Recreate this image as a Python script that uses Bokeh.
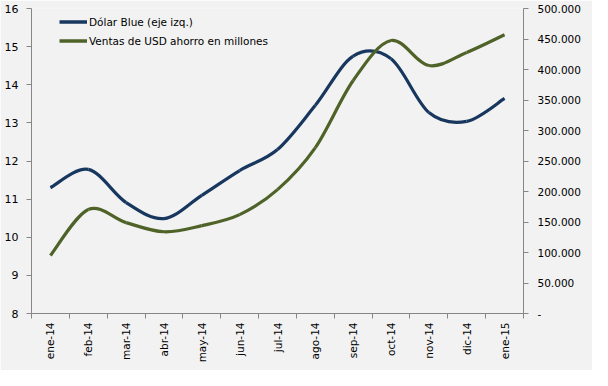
import numpy as np
from bokeh.plotting import figure
from bokeh.models import Range1d, LinearAxis, FixedTicker, Legend, LegendItem
from bokeh.embed import file_html
from bokeh.resources import INLINE

months = ["ene-14", "feb-14", "mar-14", "abr-14", "may-14", "jun-14", "jul-14",
          "ago-14", "sep-14", "oct-14", "nov-14", "dic-14", "ene-15"]
dolar_blue = [11.30, 11.78, 10.91, 10.49, 11.10, 11.75, 12.30,
              13.46, 14.75, 14.68, 13.27, 13.04, 13.64]
ventas_usd = [95000, 170500, 149000, 134000, 144000, 162000, 203000,
              272000, 382000, 447500, 406500, 428000, 457000]
left_ticks = [8, 9, 10, 11, 12, 13, 14, 15, 16]
right_ticks = [0, 50000, 100000, 150000, 200000, 250000, 300000,
               350000, 400000, 450000, 500000]
right_labels = ["-", "50.000", "100.000", "150.000", "200.000", "250.000",
                "300.000", "350.000", "400.000", "450.000", "500.000"]

BG = "#F2F2F2"
AX = "#868686"
FONT = "DejaVu Sans"
BLUE = "#17375E"
GREEN = "#4F6228"

p = figure(width=592, height=370, output_backend="svg", toolbar_location=None,
           x_range=Range1d(-0.5, len(months) - 0.5), y_range=Range1d(8, 16),
           min_border_left=31, min_border_right=69, min_border_top=8,
           min_border_bottom=57)
p.extra_y_ranges = {"right": Range1d(0, 500000)}
p.background_fill_color = BG
p.border_fill_color = BG
p.outline_line_color = None
p.grid.visible = False


def bezier_parts(ys):
    xs = np.arange(len(ys), dtype=float)
    ys = np.asarray(ys, dtype=float)
    n = len(ys)
    x0, y0, x1, y1, cx0, cy0, cx1, cy1 = ([] for _ in range(8))
    for i in range(n - 1):
        im = max(i - 1, 0)
        ip2 = min(i + 2, n - 1)
        x0.append(xs[i]); y0.append(ys[i])
        x1.append(xs[i + 1]); y1.append(ys[i + 1])
        cx0.append(xs[i] + (xs[i + 1] - xs[im]) / 6.0)
        cy0.append(ys[i] + (ys[i + 1] - ys[im]) / 6.0)
        cx1.append(xs[i + 1] - (xs[ip2] - xs[i]) / 6.0)
        cy1.append(ys[i + 1] - (ys[ip2] - ys[i]) / 6.0)
    return dict(x0=x0, y0=y0, x1=x1, y1=y1, cx0=cx0, cy0=cy0, cx1=cx1, cy1=cy1)


bb = bezier_parts(dolar_blue)
rb = p.bezier(x0=bb["x0"], y0=bb["y0"], x1=bb["x1"], y1=bb["y1"],
              cx0=bb["cx0"], cy0=bb["cy0"], cx1=bb["cx1"], cy1=bb["cy1"],
              line_color=BLUE, line_width=3.2)
gb = bezier_parts(ventas_usd)
rg = p.bezier(x0=gb["x0"], y0=gb["y0"], x1=gb["x1"], y1=gb["y1"],
              cx0=gb["cx0"], cy0=gb["cy0"], cx1=gb["cx1"], cy1=gb["cy1"],
              line_color=GREEN, line_width=3.2, y_range_name="right")

# legend swatches: lines drawn at the first data point (fully hidden under the curves' start)
lb = p.line(x=[0, 0], y=[dolar_blue[0], dolar_blue[0]], line_color=BLUE, line_width=3.5)
lg = p.line(x=[0, 0], y=[ventas_usd[0], ventas_usd[0]], line_color=GREEN, line_width=3.5,
            y_range_name="right")
legend = Legend(items=[LegendItem(label="Dólar Blue (eje izq.)", renderers=[lb]),
                       LegendItem(label="Ventas de USD ahorro en millones", renderers=[lg])],
                location=(28, 263), margin=0, padding=0, spacing=0,
                glyph_width=28, glyph_height=19, label_height=19, label_standoff=2,
                label_text_font=FONT, label_text_font_size="10.5px",
                label_text_color="black",
                background_fill_alpha=0, border_line_color=None)
p.add_layout(legend)

# bottom axis
xa = p.xaxis[0]
xa.ticker = FixedTicker(ticks=list(range(len(months))),
                        minor_ticks=[i - 0.5 for i in range(len(months) + 1)])
xa.major_label_overrides = {i: m for i, m in enumerate(months)}
xa.major_label_orientation = np.pi / 2
xa.major_tick_line_color = None
xa.major_tick_out = 5
xa.major_tick_in = 0
xa.minor_tick_line_color = AX
xa.minor_tick_out = 5
xa.minor_tick_in = 0
xa.axis_line_color = AX
xa.major_label_standoff = 4
xa.major_label_text_font = FONT
xa.major_label_text_font_size = "10.5px"
xa.major_label_text_color = "black"

# left axis
ya = p.yaxis[0]
ya.ticker = FixedTicker(ticks=left_ticks)
ya.minor_tick_line_color = None
ya.major_tick_line_color = AX
ya.major_tick_out = 5
ya.major_tick_in = 0
ya.axis_line_color = AX
ya.major_label_standoff = 8
ya.major_label_text_font = FONT
ya.major_label_text_font_size = "11px"
ya.major_label_text_color = "black"

# right axis
ra = LinearAxis(y_range_name="right", ticker=FixedTicker(ticks=right_ticks))
ra.major_label_overrides = {t: l for t, l in zip(right_ticks, right_labels)}
ra.minor_tick_line_color = None
ra.major_tick_line_color = AX
ra.major_tick_out = 5
ra.major_tick_in = 0
ra.axis_line_color = AX
ra.major_label_standoff = 9
ra.major_label_text_font = FONT
ra.major_label_text_font_size = "10.5px"
ra.major_label_text_color = "black"
p.add_layout(ra, "right")

open("out.html", "w").write(file_html(p, INLINE))
